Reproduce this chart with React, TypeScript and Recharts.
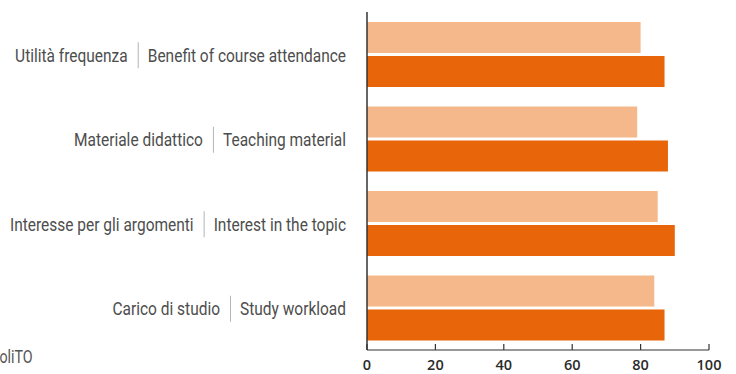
import { Bar, BarChart, XAxis, YAxis } from "recharts"

const itLabels = ["Utilità frequenza", "Materiale didattico", "Interesse per gli argomenti", "Carico di studio"]
const enLabels = ["Benefit of course attendance", "Teaching material", "Interest in the topic", "Study workload"]
const prevYear = [80, 79, 85, 84]
const thisYear = [87, 88, 90, 87]
const xTicks = [0, 20, 40, 60, 80, 100]

const data = itLabels.map((it, i) => ({
  name: it,
  prev: prevYear[i],
  curr: thisYear[i],
}))

const labelFont = "Roboto, 'Noto Sans', sans-serif"
const labelSize = 19
const squeeze = 0.815 // fake a condensed face

let ctx: CanvasRenderingContext2D | null = null
function textWidth(s: string) {
  if (!ctx) ctx = document.createElement("canvas").getContext("2d")
  if (!ctx) return s.length * 8
  ctx.font = `${labelSize}px ${labelFont}`
  return ctx.measureText(s).width
}

function CategoryTick(props: any) {
  const { x, y, payload, index } = props
  const en = enLabels[index] ?? ""
  const right = x - 19
  const wEn = textWidth(en) * squeeze
  const sepX = right - wEn - 9.5
  return (
    <g>
      <g transform={`translate(${right},${y + 7.5}) scale(${squeeze},1)`}>
        <text x={0} y={0} textAnchor="end" fill="#4d4d4d" fontFamily={labelFont} fontSize={labelSize}>
          {en}
        </text>
      </g>
      <line x1={sepX} x2={sepX} y1={y - 12} y2={y + 14} stroke="#b5b5b5" strokeWidth={1} />
      <g transform={`translate(${sepX - 10.5},${y + 7.5}) scale(${squeeze},1)`}>
        <text x={0} y={0} textAnchor="end" fill="#4d4d4d" fontFamily={labelFont} fontSize={labelSize}>
          {payload.value}
        </text>
      </g>
    </g>
  )
}

function ValueTick(props: any) {
  const { x, y, payload } = props
  return (
    <g>
      <line x1={x} x2={x} y1={y - 6} y2={y} stroke="#333" strokeWidth={1.2} />
      <text x={x} y={y + 20} textAnchor="middle" fill="#2b2b2b" fontFamily="'Open Sans', sans-serif" fontWeight={600} fontSize={14.5}>
        {payload.value}
      </text>
    </g>
  )
}

export default function App() {
  return (
    <div style={{ position: "fixed", left: 0, top: 0, width: 736, height: 374, overflow: "hidden", background: "#fff" }}>
      <BarChart
        width={736}
        height={374}
        data={data}
        layout="vertical"
        margin={{ top: 12, right: 27, bottom: 0, left: 0 }}
        barSize={31}
        barGap={3}
      >
        <XAxis
          type="number"
          domain={[0, 100]}
          ticks={xTicks}
          height={24}
          tickSize={0}
          tickMargin={0}
          axisLine={{ stroke: "#333", strokeWidth: 1.2 }}
          tickLine={false}
          tick={<ValueTick />}
          interval={0}
        />
        <YAxis
          type="category"
          dataKey="name"
          width={367}
          axisLine={{ stroke: "#333", strokeWidth: 1.5 }}
          tickLine={false}
          tickSize={0}
          tick={<CategoryTick />}
          interval={0}
        />
        <Bar dataKey="prev" fill="#F4B88A" isAnimationActive={false} />
        <Bar dataKey="curr" fill="#E86509" isAnimationActive={false} />
      </BarChart>
      <div
        style={{
          position: "absolute",
          right: 703,
          top: 347,
          fontFamily: labelFont,
          fontSize: 17.5,
          color: "#555",
          whiteSpace: "nowrap",
          transform: `scaleX(${squeeze})`,
          transformOrigin: "right center",
        }}
      >
        PoliTO
      </div>
    </div>
  )
}
